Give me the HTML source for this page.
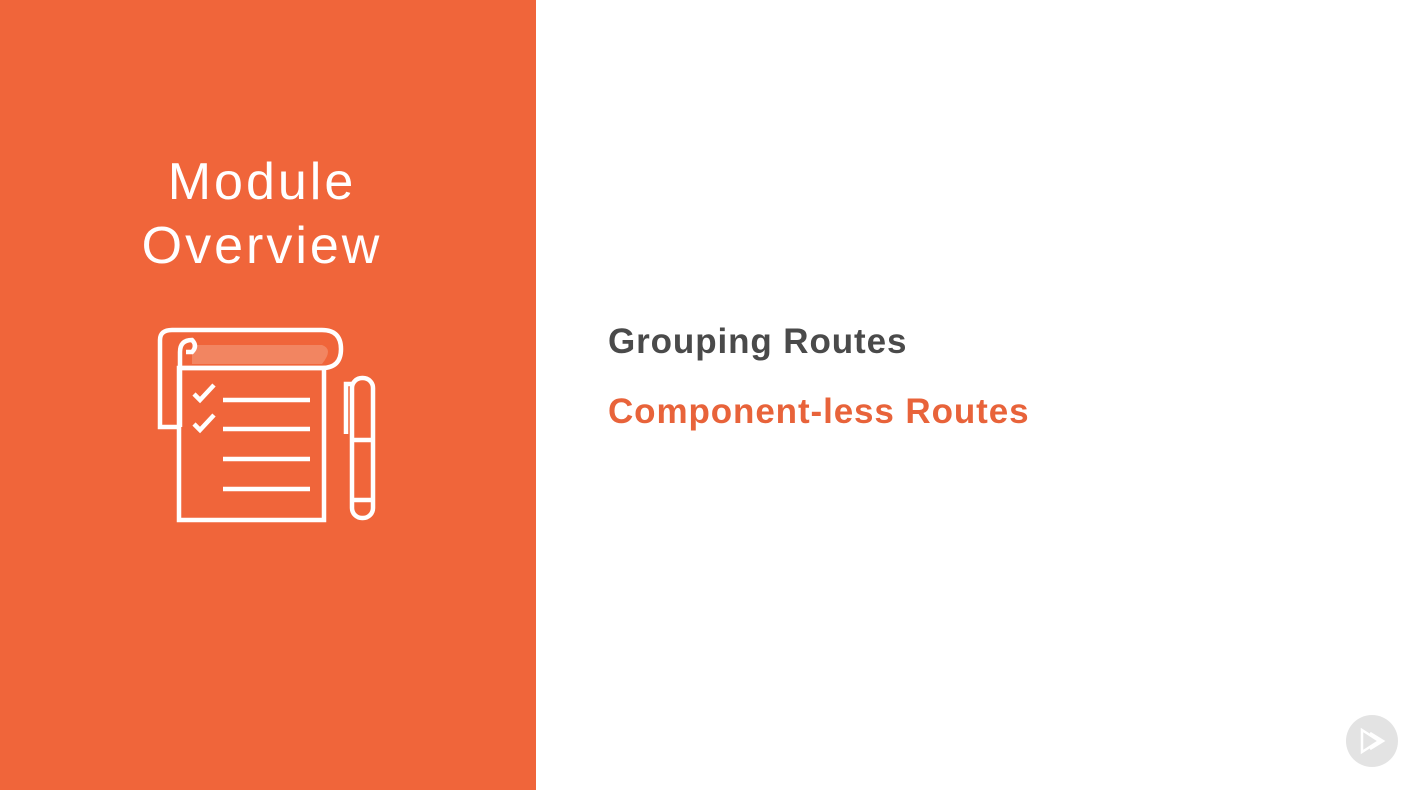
<!DOCTYPE html>
<html><head><style>
body{margin:0;width:1422px;height:790px;overflow:hidden;background:#fff;font-family:"Liberation Sans",sans-serif;position:relative}
.l{position:absolute;left:0;top:0;width:536px;height:790px;background:#F0653A}
.t{position:absolute;left:0;width:524px;text-align:center;color:#fff;font-size:52px;font-weight:normal;letter-spacing:3px}
.a{position:absolute;left:608px;font-size:35px;font-weight:bold;letter-spacing:0.9px}
</style></head><body>
<div class="l"></div>
<div class="t" style="top:152px">Module</div>
<div class="t" style="top:216px">Overview</div>
<svg style="position:absolute;left:0;top:0" width="536" height="790">
<g fill="none" stroke="#fff" stroke-width="4.5">
<path d="M180 427 H160 V340 Q160 330 172 330 H322 Q341 330 341 349 Q341 368 322 368 H180" fill="none"/>
<path d="M192 345 H322 Q334 349 322 364 H192 Z" fill="#F28561" stroke="none"/>
<path d="M180 427 V352 Q180 340 192 340 Q198 346 192 352 H186"/>
<rect x="179" y="368" width="145" height="152"/>
<path d="M223 400 H310 M223 429 H310 M223 459 H310 M223 489 H310"/>
<path d="M194 394 L200 400 L214 385 M194 424 L200 430 L214 415"/>
<rect x="352" y="378" width="21" height="140" rx="10"/>
<path d="M346 434 V384 H352 M352 440 H373 M352 500 H373"/>
</g></svg>
<div class="a" style="top:322px;color:#4a4a4a">Grouping Routes</div>
<div class="a" style="top:392px;color:#E8633A">Component-less Routes</div>
<div style="position:absolute;left:1346px;top:715px;width:52px;height:52px;border-radius:50%;background:#e3e3e3"></div>
<svg style="position:absolute;left:1346px;top:715px" width="52" height="52"><g fill="none" stroke="#fff" stroke-width="2.5"><path d="M16 15 V37 L33 26 Z"/><path d="M24 18 L37 26 L24 34"/></g></svg>
</body></html>
